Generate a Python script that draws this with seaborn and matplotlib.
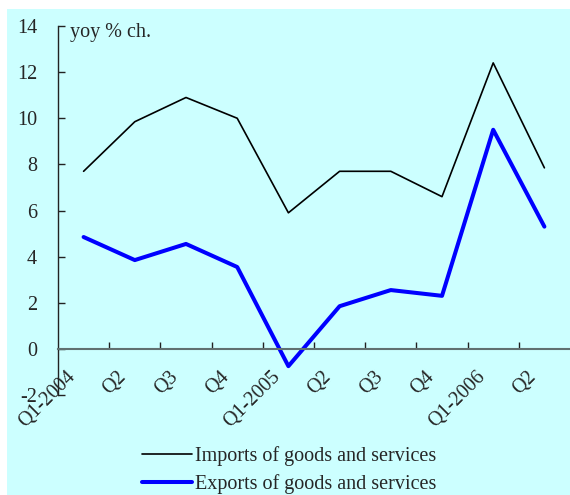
import numpy as np
import pandas as pd
import seaborn as sns
import matplotlib
matplotlib.use("Agg")
import matplotlib.pyplot as plt
from matplotlib.patches import Rectangle

# data
quarters = ["Q1-2004", "Q2", "Q3", "Q4", "Q1-2005", "Q2", "Q3", "Q4", "Q1-2006", "Q2"]
imports = [7.7, 9.85, 10.9, 10.0, 5.9, 7.7, 7.7, 6.6, 12.4, 7.85]
exports = [4.85, 3.85, 4.55, 3.55, -0.75, 1.85, 2.55, 2.3, 9.5, 5.3]
imports_label = "Imports of goods and services"
exports_label = "Exports of goods and services"
y_ticks = list(range(-2, 15, 2))

sns.set_style("white")
plt.rcParams["font.family"] = ["Liberation Serif", "DejaVu Serif"]
plt.rcParams["axes.unicode_minus"] = False
fs = 14.5

df = pd.DataFrame({"x": np.arange(len(quarters)), "imports": imports, "exports": exports})

fig = plt.figure(figsize=(5.7, 4.95), dpi=100)
fig.patch.set_facecolor("white")
fig.patches.append(Rectangle((7 / 570, 0), 1, 1 - 9 / 495, transform=fig.transFigure,
                             facecolor="#CCFFFF", edgecolor="none", zorder=-10))

ax = fig.add_axes([58 / 570, 1 - 395 / 495, 1 - 58 / 570, (395 - 26) / 495])
ax.set_facecolor("none")

sns.lineplot(data=df, x="x", y="imports", ax=ax, color="black", linewidth=1.2, label=imports_label)
sns.lineplot(data=df, x="x", y="exports", ax=ax, color="#0000FF", linewidth=2.9, label=exports_label)

ax.set_xlim(-0.5, len(quarters) - 0.5)
ax.set_ylim(-2, 14)
ax.set_yticks(y_ticks)
ax.set_xlabel("")
ax.set_ylabel("")

for s in ["top", "right"]:
    ax.spines[s].set_visible(False)
ax.spines["left"].set_color("#222222")
ax.spines["left"].set_linewidth(1.0)
ax.spines["bottom"].set_position(("data", 0))
ax.spines["bottom"].set_color("#607070")
ax.spines["bottom"].set_linewidth(1.5)

ax.tick_params(axis="y", left=True, direction="in", length=5, width=1, color="#222222", pad=15, labelsize=fs)
ax.set_xticks(np.arange(0.5, len(quarters) - 0.5, 1))
ax.set_xticklabels([])
ax.tick_params(axis="x", bottom=True, direction="in", length=5, width=1, color="#222222")

for i, q in enumerate(quarters):
    ax.annotate(q, xy=(i, 0), xytext=(-11, -25), textcoords="offset pixels",
                ha="right", va="center", rotation=45, rotation_mode="anchor", fontsize=fs)

fig.text(70 / 570, 1 - 33 / 495, "yoy % ch.", ha="left", va="center", fontsize=fs)

ax.get_legend().remove()
handles, labels = ax.get_legend_handles_labels()
fig.legend(handles, labels, loc="center left", bbox_to_anchor=(124 / 570, 1 - 470 / 495),
           frameon=False, fontsize=fs, handlelength=2.5, handletextpad=0.15, labelspacing=0.4)

fig.savefig("out.png", dpi=100)
